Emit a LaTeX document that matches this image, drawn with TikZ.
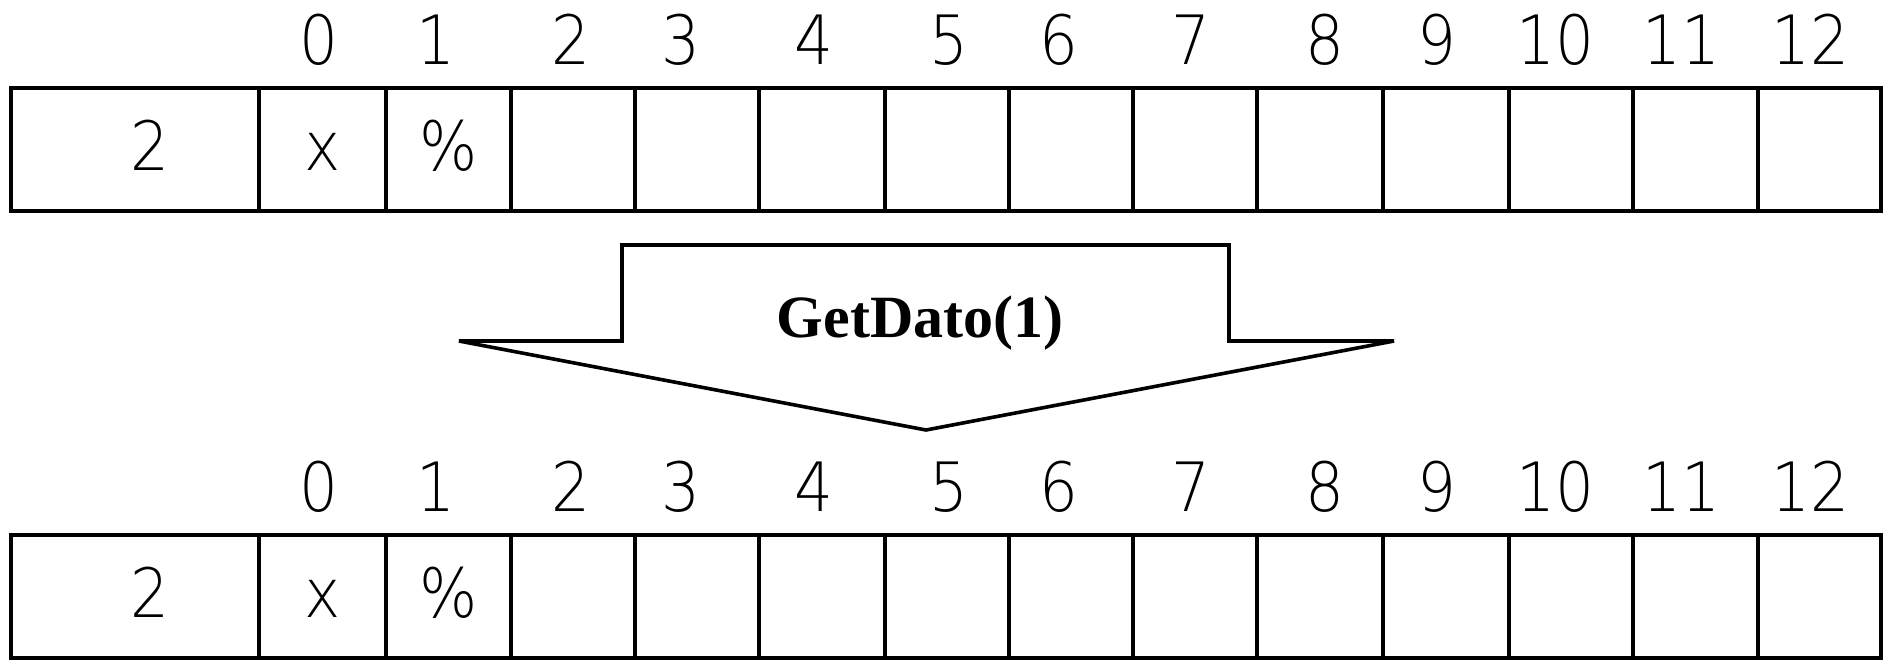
\documentclass[tikz,border=0pt]{standalone}
\usepackage{fontspec}
\IfFontExistsTF{DejaVu Sans ExtraLight}
  {\setmainfont{DejaVu Sans ExtraLight}[FakeStretch=0.9]}
  {\setmainfont{DejaVu Sans}[FakeStretch=0.9]}
\newfontfamily\callfont{Liberation Serif}
\usetikzlibrary{positioning}

\begin{document}
\begin{tikzpicture}[x=0.5pt, y=-0.5pt, node distance=0pt]

  % Cells, index numbers and the call label
  \tikzset{
    slot/.style={
      draw,
      rectangle,
      line width=1.8pt,
      inner sep=0pt,
      outer sep=0pt,
      minimum height=61.5pt,
      font=\fontsize{34}{40}\selectfont,
      text height=24.5pt,
      text depth=3.5pt
    },
    idx/.style={
      anchor=base,
      inner sep=0pt,
      font=\fontsize{34}{40}\selectfont
    },
    arrowtext/.style={
      anchor=base,
      inner sep=0pt,
      font=\callfont\bfseries\fontsize{30}{36}\selectfont
    }
  }

  \useasboundingbox (0,0) rectangle (1889,659);

  % Array before the call
  \node[slot, minimum width=124pt, anchor=north west] (top0) at (11,88) {\hspace*{15pt}2};
  \node[slot, minimum width=63.5pt, right=of top0] (top1) {x};
  \node[slot, minimum width=62.5pt, right=of top1] (top2) {\%};
  \node[slot, minimum width=62pt, right=of top2] (top3) {};
  \node[slot, minimum width=62pt, right=of top3] (top4) {};
  \node[slot, minimum width=63pt, right=of top4] (top5) {};
  \node[slot, minimum width=62pt, right=of top5] (top6) {};
  \node[slot, minimum width=62pt, right=of top6] (top7) {};
  \node[slot, minimum width=62pt, right=of top7] (top8) {};
  \node[slot, minimum width=63pt, right=of top8] (top9) {};
  \node[slot, minimum width=63pt, right=of top9] (top10) {};
  \node[slot, minimum width=62pt, right=of top10] (top11) {};
  \node[slot, minimum width=62.5pt, right=of top11] (top12) {};
  \node[slot, minimum width=61.5pt, right=of top12] (top13) {};

  \node[idx] (topidx0) at (319,64) {0};
  \node[idx] (topidx1) at (436,64) {1};
  \node[idx] (topidx2) at (571,64) {2};
  \node[idx] (topidx3) at (681,64) {3};
  \node[idx] (topidx4) at (814,64) {4};
  \node[idx] (topidx5) at (949,64) {5};
  \node[idx] (topidx6) at (1059,64) {6};
  \node[idx] (topidx7) at (1191,64) {7};
  \node[idx] (topidx8) at (1325,64) {8};
  \node[idx] (topidx9) at (1437,64) {9};
  \node[idx] (topidx10) at (1555,64) {10};
  \node[idx] (topidx11) at (1681,64) {11};
  \node[idx] (topidx12) at (1810,64) {12};

  % Big arrow with the call
  \draw[line width=1.8pt, line join=miter]
    (622,245) -- (1229,245) -- (1229,341) -- (1394,341)
    -- (926,430) -- (459,341) -- (622,341) -- cycle;
  \node[arrowtext] (call) at (920,337) {GetDato(1)};

  % Array after the call
  \node[slot, minimum width=124pt, anchor=north west] (bot0) at (11,535) {\hspace*{15pt}2};
  \node[slot, minimum width=63.5pt, right=of bot0] (bot1) {x};
  \node[slot, minimum width=62.5pt, right=of bot1] (bot2) {\%};
  \node[slot, minimum width=62pt, right=of bot2] (bot3) {};
  \node[slot, minimum width=62pt, right=of bot3] (bot4) {};
  \node[slot, minimum width=63pt, right=of bot4] (bot5) {};
  \node[slot, minimum width=62pt, right=of bot5] (bot6) {};
  \node[slot, minimum width=62pt, right=of bot6] (bot7) {};
  \node[slot, minimum width=62pt, right=of bot7] (bot8) {};
  \node[slot, minimum width=63pt, right=of bot8] (bot9) {};
  \node[slot, minimum width=63pt, right=of bot9] (bot10) {};
  \node[slot, minimum width=62pt, right=of bot10] (bot11) {};
  \node[slot, minimum width=62.5pt, right=of bot11] (bot12) {};
  \node[slot, minimum width=61.5pt, right=of bot12] (bot13) {};

  \node[idx] (botidx0) at (319,511) {0};
  \node[idx] (botidx1) at (436,511) {1};
  \node[idx] (botidx2) at (571,511) {2};
  \node[idx] (botidx3) at (681,511) {3};
  \node[idx] (botidx4) at (814,511) {4};
  \node[idx] (botidx5) at (949,511) {5};
  \node[idx] (botidx6) at (1059,511) {6};
  \node[idx] (botidx7) at (1191,511) {7};
  \node[idx] (botidx8) at (1325,511) {8};
  \node[idx] (botidx9) at (1437,511) {9};
  \node[idx] (botidx10) at (1555,511) {10};
  \node[idx] (botidx11) at (1681,511) {11};
  \node[idx] (botidx12) at (1810,511) {12};

\end{tikzpicture}
\end{document}
